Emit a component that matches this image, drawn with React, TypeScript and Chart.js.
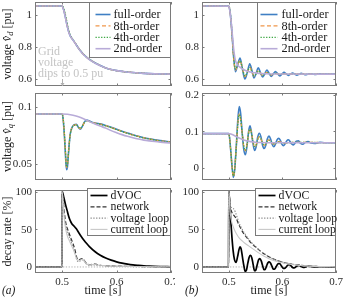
import React, { useEffect, useRef } from "react";
import { Chart, registerables } from "chart.js";
Chart.register(...registerables);

const FONT = '"Liberation Serif", "Times New Roman", serif';

// ---------------- axes ----------------
const xTicks = [0.5, 0.6, 0.7];
const xTickLabels = ["0.5", "0.6", "0.7"];
const vdTicks = [0.6, 0.8, 1];
const vdTickLabels = ["0.6", "0.8", "1"];
const vqATicks = [0.05, 0.1];
const vqATickLabels = ["0.05", "0.1"];
const vqBTicks = [0, 0.1, 0.2];
const vqBTickLabels = ["0", "0.1", "0.2"];
const drTicks = [0, 50, 100];
const drTickLabels = ["0", "50", "100"];
const orderLabels = ["full-order", "8th-order", "4th-order", "2nd-order"];
const decayLabels = ["dVOC", "network", "voltage loop", "current loop"];

// ---------------- (a) voltage v_d ----------------
const tVdA = [0.45, 0.499, 0.5, 0.503, 0.506, 0.509, 0.512, 0.515, 0.518, 0.521, 0.525, 0.53, 0.535, 0.54, 0.55, 0.56, 0.57, 0.58, 0.59, 0.6, 0.615, 0.63, 0.65, 0.67, 0.7];
const vdA_full = [1.056, 1.056, 1.055, 1.03, 0.985, 0.935, 0.895, 0.868, 0.852, 0.838, 0.818, 0.792, 0.77, 0.751, 0.722, 0.701, 0.684, 0.669, 0.659, 0.652, 0.645, 0.64, 0.635, 0.632, 0.63];
const vdA_8th = [1.056, 1.056, 1.055, 1.032, 0.988, 0.938, 0.897, 0.869, 0.853, 0.838, 0.818, 0.792, 0.77, 0.751, 0.722, 0.701, 0.684, 0.669, 0.659, 0.652, 0.645, 0.64, 0.635, 0.632, 0.63];
const vdA_4th = [1.056, 1.056, 1.056, 1.04, 1.0, 0.95, 0.905, 0.874, 0.856, 0.84, 0.819, 0.793, 0.771, 0.752, 0.723, 0.701, 0.684, 0.669, 0.659, 0.652, 0.645, 0.64, 0.635, 0.632, 0.63];
const vdA_2nd = [1.056, 1.056, 1.055, 1.028, 0.982, 0.933, 0.894, 0.868, 0.851, 0.837, 0.817, 0.791, 0.769, 0.75, 0.721, 0.7, 0.683, 0.669, 0.659, 0.652, 0.645, 0.64, 0.635, 0.632, 0.63];

// ---------------- (b) voltage v_d ----------------
const tVdB_full = [0.45, 0.5, 0.503, 0.506, 0.509, 0.5125, 0.5165, 0.521, 0.5255, 0.53, 0.5345, 0.539, 0.543, 0.547, 0.551, 0.555, 0.559, 0.563, 0.567, 0.571, 0.575, 0.579, 0.583, 0.587, 0.591, 0.595, 0.599, 0.603, 0.607, 0.611, 0.615, 0.619, 0.623, 0.627, 0.631, 0.635, 0.639, 0.643, 0.647, 0.651, 0.66, 0.67, 0.68, 0.7];
const vdB_full = [1.056, 1.055, 1.0, 0.88, 0.74, 0.645, 0.69, 0.73, 0.66, 0.6, 0.64, 0.695, 0.655, 0.606, 0.635, 0.67, 0.64, 0.612, 0.632, 0.656, 0.636, 0.616, 0.631, 0.646, 0.633, 0.619, 0.63, 0.641, 0.632, 0.622, 0.63, 0.637, 0.631, 0.624, 0.63, 0.635, 0.631, 0.626, 0.63, 0.633, 0.628, 0.632, 0.63, 0.63];
const tVdB_red = [0.45, 0.5, 0.503, 0.506, 0.509, 0.5125, 0.5165, 0.521, 0.5255, 0.53, 0.5345, 0.539, 0.543, 0.547, 0.551, 0.555, 0.559, 0.563, 0.567, 0.571, 0.575, 0.579, 0.583, 0.587, 0.595, 0.603, 0.611, 0.62, 0.64, 0.7];
const vdB_8th = [1.056, 1.055, 1.0, 0.875, 0.73, 0.655, 0.69, 0.715, 0.665, 0.615, 0.64, 0.675, 0.648, 0.618, 0.632, 0.652, 0.637, 0.622, 0.631, 0.641, 0.633, 0.625, 0.63, 0.636, 0.628, 0.633, 0.629, 0.631, 0.63, 0.63];
const vdB_4th = [1.056, 1.056, 1.01, 0.89, 0.745, 0.66, 0.688, 0.712, 0.667, 0.618, 0.641, 0.672, 0.647, 0.62, 0.632, 0.65, 0.637, 0.623, 0.631, 0.64, 0.633, 0.626, 0.63, 0.635, 0.628, 0.632, 0.629, 0.631, 0.63, 0.63];
const tVdB_2nd = [0.45, 0.5, 0.503, 0.506, 0.509, 0.512, 0.516, 0.52, 0.525, 0.53, 0.54, 0.55, 0.56, 0.58, 0.7];
const vdB_2nd = [1.056, 1.055, 1.0, 0.9, 0.79, 0.72, 0.69, 0.675, 0.664, 0.655, 0.644, 0.638, 0.634, 0.631, 0.63];

// ---------------- (a) voltage v_q ----------------
const tVqA = [0.45, 0.5, 0.502, 0.504, 0.506, 0.508, 0.5095, 0.511, 0.513, 0.515, 0.518, 0.522, 0.526, 0.53, 0.533, 0.537, 0.541, 0.545, 0.55, 0.556, 0.563, 0.57, 0.58, 0.59, 0.6, 0.61, 0.62, 0.63, 0.64, 0.65, 0.66, 0.67, 0.68, 0.69, 0.7];
const vqA_full = [0.0939, 0.0939, 0.088, 0.075, 0.058, 0.045, 0.047, 0.056, 0.068, 0.077, 0.082, 0.0845, 0.0848, 0.082, 0.0805, 0.083, 0.087, 0.0885, 0.0878, 0.0865, 0.0858, 0.0852, 0.0838, 0.0822, 0.0805, 0.0788, 0.0772, 0.0757, 0.0743, 0.0731, 0.0721, 0.0712, 0.0705, 0.0699, 0.0694];
const vqA_8th = [0.0939, 0.0939, 0.0885, 0.076, 0.06, 0.047, 0.0485, 0.057, 0.0685, 0.077, 0.0818, 0.0842, 0.0845, 0.0822, 0.081, 0.0832, 0.0866, 0.088, 0.0875, 0.0863, 0.0856, 0.085, 0.0836, 0.082, 0.0803, 0.0786, 0.077, 0.0755, 0.0742, 0.073, 0.072, 0.0711, 0.0704, 0.0698, 0.0693];
const vqA_4th = [0.0939, 0.0939, 0.089, 0.077, 0.061, 0.0475, 0.0485, 0.0565, 0.068, 0.0765, 0.0815, 0.084, 0.0843, 0.0823, 0.0812, 0.0833, 0.0865, 0.0878, 0.0873, 0.0862, 0.0855, 0.0849, 0.0835, 0.0819, 0.0802, 0.0785, 0.0769, 0.0754, 0.0741, 0.0729, 0.0719, 0.071, 0.0703, 0.0697, 0.0692];
const tVqA_2nd = [0.45, 0.5, 0.51, 0.52, 0.53, 0.54, 0.55, 0.56, 0.57, 0.58, 0.59, 0.6, 0.61, 0.62, 0.63, 0.64, 0.65, 0.66, 0.67, 0.68, 0.69, 0.7];
const vqA_2nd = [0.0939, 0.0939, 0.0936, 0.0928, 0.0915, 0.0895, 0.0872, 0.0852, 0.0833, 0.0815, 0.0793, 0.0775, 0.0758, 0.0743, 0.073, 0.0719, 0.071, 0.0703, 0.0697, 0.0692, 0.0688, 0.0685];

// ---------------- (b) voltage v_q ----------------
const tVqB_full = [0.45, 0.5, 0.502, 0.504, 0.506, 0.5085, 0.511, 0.514, 0.517, 0.5195, 0.522, 0.525, 0.528, 0.531, 0.534, 0.537, 0.5395, 0.542, 0.545, 0.548, 0.551, 0.554, 0.557, 0.56, 0.563, 0.566, 0.569, 0.572, 0.575, 0.578, 0.581, 0.584, 0.587, 0.59, 0.593, 0.596, 0.599, 0.602, 0.605, 0.608, 0.611, 0.614, 0.617, 0.62, 0.623, 0.626, 0.63, 0.634, 0.638, 0.643, 0.648, 0.653, 0.66, 0.67, 0.68, 0.7];
const vqB_full = [0.094, 0.094, 0.075, 0.04, 0.005, -0.026, -0.005, 0.06, 0.135, 0.168, 0.15, 0.095, 0.05, 0.036, 0.06, 0.1, 0.115, 0.1, 0.068, 0.048, 0.058, 0.085, 0.095, 0.085, 0.062, 0.053, 0.062, 0.08, 0.087, 0.079, 0.064, 0.058, 0.065, 0.077, 0.081, 0.076, 0.065, 0.061, 0.066, 0.074, 0.077, 0.073, 0.066, 0.063, 0.067, 0.073, 0.074, 0.067, 0.065, 0.07, 0.072, 0.068, 0.067, 0.07, 0.069, 0.069];
const tVqB_red = [0.45, 0.5, 0.502, 0.504, 0.506, 0.5085, 0.511, 0.514, 0.517, 0.5195, 0.522, 0.525, 0.528, 0.531, 0.534, 0.537, 0.5395, 0.542, 0.545, 0.548, 0.551, 0.554, 0.557, 0.56, 0.563, 0.566, 0.569, 0.572, 0.575, 0.578, 0.582, 0.586, 0.59, 0.595, 0.6, 0.61, 0.62, 0.7];
const vqB_8th = [0.094, 0.094, 0.074, 0.038, 0.003, -0.024, -0.004, 0.06, 0.125, 0.148, 0.135, 0.095, 0.058, 0.047, 0.065, 0.097, 0.108, 0.098, 0.073, 0.058, 0.062, 0.079, 0.086, 0.08, 0.067, 0.062, 0.066, 0.074, 0.077, 0.073, 0.066, 0.066, 0.071, 0.072, 0.068, 0.069, 0.07, 0.069];
const vqB_4th = [0.094, 0.094, 0.076, 0.041, 0.006, -0.022, -0.003, 0.058, 0.122, 0.146, 0.134, 0.096, 0.06, 0.048, 0.064, 0.095, 0.106, 0.097, 0.074, 0.059, 0.062, 0.078, 0.085, 0.08, 0.068, 0.063, 0.066, 0.073, 0.076, 0.073, 0.067, 0.066, 0.07, 0.071, 0.068, 0.069, 0.07, 0.069];
const tVqB_2nd = [0.45, 0.5, 0.505, 0.51, 0.515, 0.52, 0.525, 0.53, 0.535, 0.54, 0.55, 0.56, 0.58, 0.7];
const vqB_2nd = [0.094, 0.094, 0.092, 0.089, 0.085, 0.0815, 0.078, 0.0755, 0.0735, 0.072, 0.0703, 0.0695, 0.069, 0.069];

// ---------------- (a) decay rate ----------------
const tDrA_dvoc = [0.45, 0.4995, 0.5, 0.503, 0.506, 0.509, 0.512, 0.515, 0.518, 0.522, 0.526, 0.53, 0.535, 0.54, 0.545, 0.55, 0.56, 0.57, 0.58, 0.59, 0.6, 0.61, 0.62, 0.63, 0.64, 0.65, 0.66, 0.68, 0.7];
const drA_dvoc = [0, 0, 100, 92, 83, 75, 67, 61, 57, 54, 50.5, 46, 40.5, 35.5, 31, 27, 20.5, 15.5, 11.8, 9, 6.8, 5.1, 3.8, 2.8, 2.1, 1.5, 1.1, 0.6, 0.3];
const tDrA_loops = [0.45, 0.4995, 0.5, 0.502, 0.504, 0.507, 0.51, 0.513, 0.516, 0.52, 0.524, 0.527, 0.53, 0.533, 0.536, 0.539, 0.542, 0.545, 0.55, 0.555, 0.56, 0.565, 0.57, 0.58, 0.6, 0.63, 0.7];
const drA_net = [0, 0, 100, 88, 72, 57, 50, 44, 38, 31, 21, 12, 9, 10, 11, 10.5, 7, 4.5, 3, 3.5, 3.8, 3, 2.3, 1.8, 1.2, 0.7, 0.3];
const drA_volt = [0, 0, 100, 85, 68, 53, 45, 40, 34, 26, 17, 9, 7, 8, 9.5, 9, 6, 3.5, 2.2, 2.6, 2.8, 2.2, 1.8, 1.4, 1, 0.5, 0.2];
const drA_curr = [0, 0, 100, 82, 63, 48, 40, 35, 30, 24, 16, 10, 8, 9, 10, 9.5, 6.5, 4, 2.8, 3.1, 3.3, 2.7, 2.2, 1.7, 1.1, 0.6, 0.3];

// ---------------- (b) decay rate ----------------
const tDrB_dvoc = [0.45, 0.4995, 0.5, 0.502, 0.504, 0.506, 0.508, 0.5105, 0.5135, 0.5165, 0.519, 0.521, 0.523, 0.5255, 0.528, 0.5305, 0.533, 0.5355, 0.538, 0.5405, 0.543, 0.5455, 0.548, 0.5505, 0.553, 0.5555, 0.558, 0.5605, 0.563, 0.5655, 0.568, 0.5705, 0.573, 0.5755, 0.578, 0.5805, 0.583, 0.5855, 0.588, 0.5905, 0.593, 0.5955, 0.598, 0.601, 0.604, 0.607, 0.61, 0.613, 0.616, 0.619, 0.622, 0.625, 0.628, 0.631, 0.635, 0.639, 0.643, 0.647, 0.652, 0.66, 0.67, 0.7];
const drB_dvoc = [0, 0, 100, 80, 58, 38, 22, 10, 6, 14, 23, 26.5, 24, 13, 2, -6, -4, 5, 13, 15.5, 12, 3, -5, -4, 3, 9.5, 11, 8, 2, -3.5, -3, 1.5, 5.5, 6.8, 5, 1, -2.8, -2.8, 0, 3, 4.6, 4, 1.5, -1.5, -2, 0, 2.5, 3, 1.5, -0.8, -1.3, 0, 1.6, 2, 0.5, -0.6, 0, 1, 0.8, 0, 0.3, 0.2];
const tDrB_net = [0.45, 0.4995, 0.5, 0.503, 0.506, 0.51, 0.514, 0.518, 0.523, 0.528, 0.535, 0.542, 0.55, 0.56, 0.57, 0.58, 0.59, 0.6, 0.61, 0.62, 0.63, 0.64, 0.65, 0.67, 0.7];
const drB_net = [0, 0, 100, 80, 72, 68, 64, 57, 50, 44, 37.5, 31.5, 26.5, 20.5, 15.5, 11.6, 8.6, 6.3, 4.6, 3.3, 2.4, 1.7, 1.2, 0.6, 0.3];
const tDrB_volt = [0.45, 0.4995, 0.5, 0.503, 0.506, 0.509, 0.512, 0.516, 0.52, 0.525, 0.53, 0.536, 0.543, 0.55, 0.56, 0.57, 0.58, 0.59, 0.6, 0.62, 0.64, 0.67, 0.7];
const drB_volt = [0, 0, 100, 82, 78, 77, 73, 65, 57, 50, 44, 38, 32, 27, 20.8, 15.7, 11.7, 8.7, 6.4, 3.4, 1.8, 0.6, 0.3];
const tDrB_curr = [0.45, 0.4995, 0.5, 0.503, 0.506, 0.51, 0.515, 0.52, 0.525, 0.53, 0.537, 0.545, 0.555, 0.565, 0.575, 0.585, 0.595, 0.61, 0.625, 0.64, 0.66, 0.7];
const drB_curr = [0, 0, 100, 70, 58, 50, 43, 38, 34.5, 31.5, 28, 24, 19, 14.5, 11, 8.3, 6.2, 4, 2.5, 1.5, 0.8, 0.3];

const tZero = [0.45, 0.7];
const zeroLine = [0, 0];

// ---------------- styles ----------------
const ORDER_STYLE = [
  { color: "#3f7fc4", width: 1.6, dash: [] },
  { color: "#f0964a", width: 1.3, dash: [4, 2.5] },
  { color: "#3fa845", width: 1.3, dash: [1.3, 1.5] },
  { color: "#b8abd8", width: 1.6, dash: [] },
];
const DECAY_STYLE = [
  { color: "#000000", width: 1.7, dash: [] },
  { color: "#333333", width: 1.2, dash: [4, 2] },
  { color: "#8a8a8a", width: 1.1, dash: [1.3, 1.5] },
  { color: "#c8c8c8", width: 1.1, dash: [] },
];
const FRAME = "#7a7a7a";
const TICK_COLOR = "#2a2a2a";
const TICK_SIZE = 11;

// ---------------- plugins ----------------
const framePlugin = {
  id: "frame",
  afterDatasetsDraw(chart: any, _a: any, o: any) {
    const { ctx, chartArea: a, scales } = chart;
    ctx.save();
    ctx.strokeStyle = FRAME;
    ctx.lineWidth = 1;
    ctx.setLineDash([]);
    ctx.strokeRect(a.left + 0.5, a.top + 0.5, a.right - a.left - 1, a.bottom - a.top - 1);
    const L = 2.5;
    ctx.beginPath();
    for (const v of o.xt) {
      const p = Math.round(scales.x.getPixelForValue(v)) + 0.5;
      ctx.moveTo(p, a.top); ctx.lineTo(p, a.top + L);
      ctx.moveTo(p, a.bottom); ctx.lineTo(p, a.bottom - L);
    }
    for (const v of o.yt) {
      const p = Math.round(scales.y.getPixelForValue(v)) + 0.5;
      ctx.moveTo(a.left, p); ctx.lineTo(a.left + L, p);
      ctx.moveTo(a.right, p); ctx.lineTo(a.right - L, p);
    }
    ctx.stroke();
    // y tick labels, positioned through the y scale
    ctx.font = `${TICK_SIZE}px ${FONT}`;
    ctx.fillStyle = TICK_COLOR;
    ctx.textAlign = "right";
    ctx.textBaseline = "middle";
    for (let i = 0; i < o.yt.length; i++) {
      ctx.fillText(String(o.yl[i]), a.left - 3, scales.y.getPixelForValue(o.yt[i]) + 0.5);
    }
    ctx.restore();
  },
};

const legendPlugin = {
  id: "boxLegend",
  afterDraw(chart: any, _a: any, o: any) {
    if (!o || !o.show) return;
    const { ctx, chartArea: a } = chart;
    const x0 = Math.round(a.right - o.width) + 0.5;
    const y0 = Math.round(a.top + o.top) + 0.5;
    ctx.save();
    ctx.fillStyle = "#ffffff";
    ctx.fillRect(x0, y0, a.right - 0.5 - x0, o.height);
    ctx.strokeStyle = FRAME;
    ctx.lineWidth = 1;
    ctx.strokeRect(x0, y0, a.right - 0.5 - x0, o.height);
    ctx.font = `${o.size}px ${FONT}`;
    ctx.textBaseline = "middle";
    ctx.textAlign = "left";
    let i = 0;
    for (const d of chart.data.datasets) {
      if (d.noLegend) continue;
      const y = y0 + o.firstY + i * o.rowH;
      ctx.strokeStyle = d.borderColor;
      ctx.lineWidth = d.borderWidth;
      ctx.setLineDash(d.borderDash || []);
      ctx.beginPath();
      ctx.moveTo(x0 + o.lx0, y);
      ctx.lineTo(x0 + o.lx1, y);
      ctx.stroke();
      ctx.setLineDash([]);
      ctx.fillStyle = "#1a1a1a";
      ctx.fillText(d.label, x0 + o.tx, y + 0.5);
      i++;
    }
    ctx.restore();
  },
};

const textPlugin = {
  id: "texts",
  afterDraw(chart: any, _a: any, o: any) {
    const { ctx, chartArea: a } = chart;
    ctx.save();
    if (o.ytitle) {
      const cy = (a.top + a.bottom) / 2;
      ctx.translate(o.ytitleX, cy);
      ctx.rotate(-Math.PI / 2);
      ctx.textBaseline = "middle";
      ctx.fillStyle = "#1a1a1a";
      const fontOf = (s: any) => `${s.it ? "italic " : ""}${s.sub ? o.size * 0.72 : o.size}px ${FONT}`;
      let total = 0;
      for (const s of o.ytitle) { ctx.font = fontOf(s); total += ctx.measureText(s.t).width; }
      let x = -total / 2;
      for (const s of o.ytitle) {
        ctx.font = fontOf(s);
        ctx.fillText(s.t, x, s.sub ? 2.5 : 0);
        x += ctx.measureText(s.t).width;
      }
      ctx.setTransform(1, 0, 0, 1, 0, 0);
    }
    for (const t of o.items || []) {
      ctx.font = `${t.it ? "italic " : ""}${t.size}px ${FONT}`;
      ctx.fillStyle = t.color;
      ctx.textAlign = t.align || "left";
      ctx.textBaseline = "middle";
      const x = t.cx ? (a.left + a.right) / 2 : t.x;
      ctx.fillText(t.text, x, t.y);
    }
    if (o.arrow) {
      const px = Math.round(chart.scales.x.getPixelForValue(o.arrow.at)) + 0.5;
      ctx.strokeStyle = o.arrow.color;
      ctx.fillStyle = o.arrow.color;
      ctx.lineWidth = 1;
      ctx.beginPath();
      ctx.moveTo(px, o.arrow.y0);
      ctx.lineTo(px, o.arrow.y1);
      ctx.stroke();
      ctx.beginPath();
      ctx.moveTo(px - 2, o.arrow.y1 - 3);
      ctx.lineTo(px + 2, o.arrow.y1 - 3);
      ctx.lineTo(px, o.arrow.y1);
      ctx.closePath();
      ctx.fill();
    }
    ctx.restore();
  },
};

// ---------------- config builder ----------------
function makeConfig(p: any) {
  const datasets = p.series.map((s: any, i: number) => ({
    label: s.label,
    data: s.t.map((t: number, k: number) => ({ x: t, y: s.v[k] })),
    borderColor: s.style.color,
    borderWidth: s.style.width,
    borderDash: s.style.dash,
    pointRadius: 0,
    fill: false,
    cubicInterpolationMode: "monotone",
    order: p.series.length - i,
    noLegend: !!s.noLegend,
  }));
  return {
    type: "line",
    data: { datasets },
    options: {
      responsive: false,
      animation: false,
      devicePixelRatio: 1,
      events: [],
      layout: { padding: { left: 0, right: p.padRight, top: p.padTop, bottom: 0 } },
      plugins: {
        legend: { display: false },
        tooltip: { enabled: false },
        frame: { xt: xTicks, yt: p.yTicks, yl: p.yTickLabels },
        boxLegend: p.legend || { show: false },
        texts: p.texts || {},
      },
      scales: {
        x: {
          type: "linear",
          min: 0.45,
          max: 0.7,
          grid: { display: false, drawTicks: false },
          border: { display: false },
          ticks: {
            display: !!p.showX,
            autoSkip: false,
            padding: 3,
            color: TICK_COLOR,
            font: { family: FONT, size: TICK_SIZE },
            callback: (_v: any, i: number) => xTickLabels[i],
          },
          afterBuildTicks: (s: any) => { s.ticks = xTicks.map((v) => ({ value: v })); },
          afterFit: (s: any) => { s.height = p.xAxisH; s.paddingLeft = 0; s.paddingRight = 0; },
        },
        y: {
          type: "linear",
          min: p.yMin,
          max: p.yMax,
          grid: { display: false, drawTicks: false },
          border: { display: false },
          ticks: { display: false },
          afterBuildTicks: (s: any) => { s.ticks = p.yTicks.map((v: number) => ({ value: v })); },
          afterFit: (s: any) => { s.width = p.yAxisW; s.paddingTop = 0; s.paddingBottom = 0; },
        },
      },
    },
    plugins: [framePlugin, legendPlugin, textPlugin],
  };
}

const orderSeries = (ts: number[][], vs: number[][]) =>
  vs.map((v, i) => ({ label: orderLabels[i], t: ts[i], v, style: ORDER_STYLE[i] }));
const decaySeries = (ts: number[][], vs: number[][]) =>
  vs.map((v, i) => ({ label: decayLabels[i], t: ts[i], v, style: DECAY_STYLE[i] }));
const zeroSeries = { label: "zero", t: tZero, v: zeroLine, style: { color: "#b0b0b0", width: 1, dash: [1.3, 1.5] }, noLegend: true };

// canvases overlap a little (they are transparent) so edge labels have room
const COL_A = { left: 0, width: 175, yAxisW: 35, padRight: 4 };
const COL_B = { left: 175, width: 170, yAxisW: 27, padRight: 9 };
const ROW1 = { top: 0, height: 88, padTop: 2, xAxisH: 2 };
const ROW2 = { top: 80, height: 104, padTop: 13, xAxisH: 4 };
const ROW3 = { top: 180, height: 119, padTop: 10, xAxisH: 26 };

const TITLE_SIZE = 12;
const vdTitle = [{ t: "voltage " }, { t: "v\u0302", it: true }, { t: "d", it: true, sub: true }, { t: " [pu]" }];
const vqTitle = [{ t: "voltage " }, { t: "v\u0302", it: true }, { t: "q", it: true, sub: true }, { t: " [pu]" }];
const drTitle = [{ t: "decay rate [%]" }];

const orderLegendA = { show: true, width: 82, top: 0, height: 55, firstY: 12, rowH: 11.4, lx0: 6, lx1: 21, tx: 24, size: 12.3 };
const orderLegendB = { show: true, width: 79, top: 0, height: 55, firstY: 12, rowH: 11.4, lx0: 3, lx1: 20, tx: 24, size: 12.3 };
const decayLegendA = { show: true, width: 84, top: -2, height: 47, firstY: 7, rowH: 11.3, lx0: 3, lx1: 20, tx: 23, size: 11.8 };
const decayLegendB = { show: true, width: 81, top: -2, height: 47, firstY: 7, rowH: 11.3, lx0: 3, lx1: 20, tx: 23, size: 11.8 };

const PANELS = [
  {
    key: "vdA", col: COL_A, row: ROW1, yMin: 0.556, yMax: 1.081, yTicks: vdTicks, yTickLabels: vdTickLabels,
    series: orderSeries([tVdA, tVdA, tVdA, tVdA], [vdA_full, vdA_8th, vdA_4th, vdA_2nd]),
    legend: orderLegendA,
    texts: {
      ytitle: vdTitle, ytitleX: 8, size: TITLE_SIZE,
      items: [
        { text: "Grid", x: 38, y: 52, size: 12, color: "#c4c4c4" },
        { text: "voltage", x: 38, y: 63, size: 12, color: "#c4c4c4" },
        { text: "dips to 0.5 pu", x: 38, y: 74, size: 12, color: "#c4c4c4" },
      ],
      arrow: { at: 0.5, y0: 79, y1: 86, color: "#b0b0b0" },
    },
  },
  {
    key: "vdB", col: COL_B, row: ROW1, yMin: 0.556, yMax: 1.081, yTicks: vdTicks, yTickLabels: vdTickLabels,
    series: orderSeries([tVdB_full, tVdB_red, tVdB_red, tVdB_2nd], [vdB_full, vdB_8th, vdB_4th, vdB_2nd]),
    legend: orderLegendB,
  },
  {
    key: "vqA", col: COL_A, row: ROW2, yMin: 0.036, yMax: 0.1123, yTicks: vqATicks, yTickLabels: vqATickLabels,
    series: orderSeries([tVqA, tVqA, tVqA, tVqA_2nd], [vqA_full, vqA_8th, vqA_4th, vqA_2nd]),
    texts: { ytitle: vqTitle, ytitleX: 8, size: TITLE_SIZE },
  },
  {
    key: "vqB", col: COL_B, row: ROW2, yMin: -0.033, yMax: 0.205, yTicks: vqBTicks, yTickLabels: vqBTickLabels,
    series: orderSeries([tVqB_full, tVqB_red, tVqB_red, tVqB_2nd], [vqB_full, vqB_8th, vqB_4th, vqB_2nd]),
  },
  {
    key: "drA", col: COL_A, row: ROW3, yMin: -8, yMax: 102, yTicks: drTicks, yTickLabels: drTickLabels, showX: true,
    series: [zeroSeries, ...decaySeries([tDrA_dvoc, tDrA_loops, tDrA_loops, tDrA_loops], [drA_dvoc, drA_net, drA_volt, drA_curr])],
    legend: decayLegendA,
    texts: {
      ytitle: drTitle, ytitleX: 8, size: TITLE_SIZE,
      items: [
        { text: "time [s]", cx: true, y: 111, size: 12, color: "#1a1a1a", align: "center" },
        { text: "(a)", x: 2, y: 111, size: 11.5, color: "#1a1a1a", it: true },
      ],
    },
  },
  {
    key: "drB", col: COL_B, row: ROW3, yMin: -8, yMax: 102, yTicks: drTicks, yTickLabels: drTickLabels, showX: true,
    series: [zeroSeries, ...decaySeries([tDrB_dvoc, tDrB_net, tDrB_volt, tDrB_curr], [drB_dvoc, drB_net, drB_volt, drB_curr])],
    legend: decayLegendB,
    texts: {
      items: [
        { text: "time [s]", cx: true, y: 111, size: 12, color: "#1a1a1a", align: "center" },
        { text: "(b)", x: 10, y: 111, size: 11.5, color: "#1a1a1a", it: true },
      ],
    },
  },
];

function Panel({ p }: { p: any }) {
  const ref = useRef<HTMLCanvasElement | null>(null);
  useEffect(() => {
    const cfg: any = makeConfig({
      ...p,
      padRight: p.col.padRight,
      yAxisW: p.col.yAxisW,
      padTop: p.row.padTop,
      xAxisH: p.row.xAxisH,
    });
    const chart = new Chart(ref.current as HTMLCanvasElement, cfg);
    return () => chart.destroy();
  }, []);
  return (
    <canvas
      ref={ref}
      width={p.col.width}
      height={p.row.height}
      style={{ position: "absolute", left: p.col.left, top: p.row.top, width: p.col.width, height: p.row.height }}
    />
  );
}

export default function App() {
  return (
    <div style={{ position: "absolute", left: 0, top: 0, width: 345, height: 299, background: "#ffffff", overflow: "hidden" }}>
      {PANELS.map((p) => (
        <Panel key={p.key} p={p} />
      ))}
    </div>
  );
}
